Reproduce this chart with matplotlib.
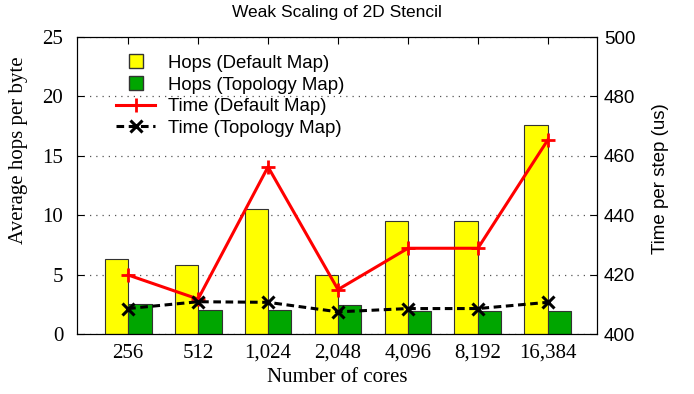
import matplotlib
matplotlib.use("Agg")
import matplotlib.pyplot as plt
from matplotlib.lines import Line2D
import numpy as np

cores = ["256", "512", "1,024", "2,048", "4,096", "8,192", "16,384"]
hops_default = [6.35, 5.85, 10.5, 5.0, 9.55, 9.55, 17.6]
hops_topology = [2.55, 2.05, 2.0, 2.45, 1.95, 1.95, 1.95]
time_default = [419.9, 411.8, 456.3, 415.0, 428.9, 428.9, 465.4]
time_topology = [408.6, 410.9, 410.7, 407.5, 408.6, 408.6, 410.7]

serif = "Liberation Serif"
sans = "Liberation Sans"

fig = plt.figure(figsize=(6.94, 3.94), dpi=100)
ax = fig.add_axes([0.111, 0.152, 0.749, 0.754])
x = np.arange(len(cores))
w = 0.335

ax.bar(x - w / 2, hops_default, w, color="#ffff00", edgecolor="#333333", linewidth=0.8, zorder=2)
ax.bar(x + w / 2, hops_topology, w, color="#00a600", edgecolor="#333333", linewidth=0.8, zorder=2)
ax.set_xlim(-0.73, 6.7)
ax.set_ylim(0, 25)
ax.set_yticks(range(0, 26, 5))
ax.set_xticks(x)
ax.set_xticklabels(cores, fontfamily=serif, fontsize=15)
for lab in ax.get_yticklabels():
    lab.set_fontfamily(serif)
    lab.set_fontsize(15)
ax.tick_params(direction="in", top=True, length=5, pad=7)
ax.tick_params(axis="y", right=False, pad=10)
ax.yaxis.grid(True, linestyle=(0, (1, 4)), color="#555555", linewidth=0.9, zorder=0)
ax.set_axisbelow(True)
ax.set_xlabel("Number of cores", fontfamily=serif, fontsize=15, labelpad=4)
ax.set_ylabel("Average hops per byte", fontfamily=serif, fontsize=15)
ax.yaxis.set_label_coords(-0.094, 0.62)
ax.set_title("Weak Scaling of 2D Stencil", fontfamily=sans, fontsize=12.5, pad=14.5)

ax2 = ax.twinx()
ax2.plot(x, time_default, color="#ff0000", linewidth=2.2, marker="+", markersize=10,
         markeredgewidth=2, zorder=3)
ax2.plot(x, time_topology, color="black", linewidth=2.2, linestyle=(0, (2.5, 1.5)),
         marker="x", markersize=8, markeredgewidth=2.2, zorder=3)
ax2.set_ylim(400, 500)
ax2.set_yticks(range(400, 501, 20))
ax2.tick_params(direction="in", length=5, pad=5)
for lab in ax2.get_yticklabels():
    lab.set_fontfamily(sans)
    lab.set_fontsize(13.5)
ax2.set_ylabel("Time per step (us)", fontfamily=sans, fontsize=13.5)
ax2.yaxis.set_label_coords(1.106, 0.525)

h1 = Line2D([], [], linestyle="none", marker="s", markersize=10,
            markerfacecolor="#ffff00", markeredgecolor="#333333")
h2 = Line2D([], [], linestyle="none", marker="s", markersize=10,
            markerfacecolor="#00a600", markeredgecolor="#333333")
h3 = Line2D([], [], color="#ff0000", linewidth=2.2, marker="+", markersize=10, markeredgewidth=2)
h4 = Line2D([], [], color="black", linewidth=2.2, linestyle=(0, (2.5, 1.5)),
            marker="x", markersize=8, markeredgewidth=2.2)
labels = ["Hops (Default Map)", "Hops (Topology Map)", "Time (Default Map)", "Time (Topology Map)"]
ax.legend([h1, h2, h3, h4], labels, loc="upper left", bbox_to_anchor=(0.075, 0.94),
          frameon=False, prop={"family": sans, "size": 13.4}, handlelength=2.1,
          handletextpad=0.7, labelspacing=0.25, borderaxespad=0, borderpad=0)
ax.set_zorder(ax2.get_zorder() - 1)
ax.patch.set_visible(False)

plt.savefig("out.png", dpi=100)
